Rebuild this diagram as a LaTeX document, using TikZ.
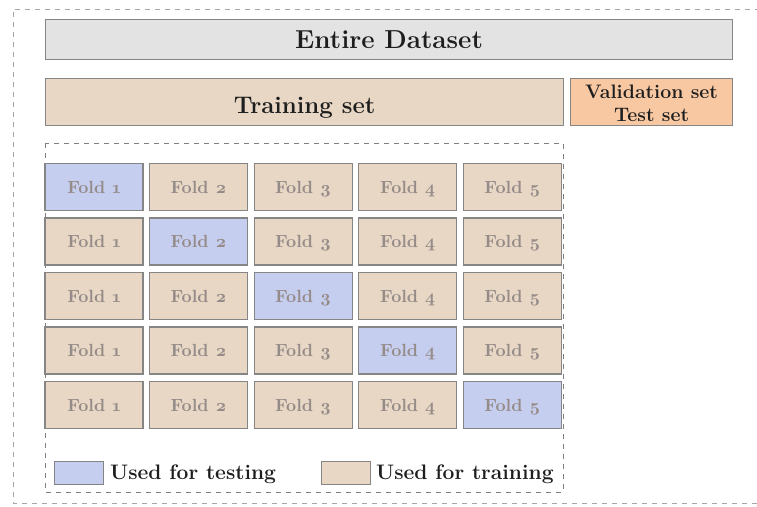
\documentclass[tikz,border=0pt]{standalone}
\usepackage{fontspec}
\usepackage{tikz}
\newfontfamily\foldfont{lmroman10}[Extension=.otf,UprightFont=*-regular,BoldFont=*-bold,Numbers=OldStyle]
\definecolor{tgray}{HTML}{E3E3E3}
\definecolor{ttan}{HTML}{E7D7C4}
\definecolor{tblue}{HTML}{C6CEF0}
\definecolor{tpeach}{HTML}{F8C8A3}
\definecolor{tedge}{HTML}{858585}
\definecolor{ttext}{HTML}{1E1E1E}
\definecolor{tfold}{HTML}{958B88}
\begin{document}
\begin{tikzpicture}[x=1pt,y=-1pt,
  boxbase/.style={draw=tedge,line width=1.2pt,inner sep=0pt,anchor=north west,text=ttext},
  foldbox/.style={draw=tedge,line width=1.3pt,minimum width=98pt,minimum height=47pt,inner sep=0pt,text=tfold,text height=12.2pt,text depth=0pt,font=\foldfont\fontsize{17.6}{20}\selectfont\bfseries},
  trainfold/.style={foldbox,fill=ttan},
  testfold/.style={foldbox,fill=tblue},
  legsq/.style={draw=tedge,line width=1pt,minimum width=49pt,minimum height=23pt,inner sep=0pt},
  legtext/.style={anchor=west,inner sep=0pt,text=ttext,text height=14.5pt,text depth=0pt,font=\fontsize{21}{22}\selectfont\bfseries},
  outerdash/.style={draw=black!35,line width=0.8pt,dash pattern=on 5pt off 5pt},
  innerdash/.style={draw=black!50,line width=0.8pt,dash pattern=on 5pt off 5pt}]
\useasboundingbox (0,0) rectangle (757,506);
% outer dashed frame (runs off the right edge)
\draw[outerdash] (770,9) -- (13,9) -- (13,503) -- (770,503);
% inner dashed frame
\draw[innerdash] (45,143) rectangle (563,492);
% header boxes
\node[boxbase,fill=tgray,minimum width=687pt,minimum height=40pt,text height=17.8pt,text depth=0pt,font=\fontsize{26}{28}\selectfont\bfseries] (entire) at (45,19) {Entire Dataset};
\node[boxbase,fill=ttan,minimum width=518pt,minimum height=47pt] (train) at (45,78) {};
\node[text=ttext,inner sep=0pt,text height=16pt,text depth=0pt,font=\fontsize{24}{26}\selectfont\bfseries] (traintxt) at ([yshift=-3.5pt]train.center) {Training set};
\node[boxbase,fill=tpeach,minimum width=162pt,minimum height=47pt] (valid) at (570,78) {};
\node[text=ttext,inner sep=0pt,align=center,font=\fontsize{19.5}{23}\selectfont\bfseries] (validtxt) at ([yshift=-1pt]valid.center) {Validation set\\Test set};
% folds
\foreach \r in {1,...,5}{
  \foreach \c in {1,...,5}{
    \pgfmathsetmacro{\xx}{94+104.6*(\c-1)}
    \pgfmathsetmacro{\yy}{187+54.5*(\r-1)}
    \ifnum\r=\c
      \node[testfold] (f-\r-\c) at (\xx,\yy) {Fold \c};
    \else
      \node[trainfold] (f-\r-\c) at (\xx,\yy) {Fold \c};
    \fi
  }
}
% legend
\node[legsq,fill=tblue] (legtest) at (78.5,472.5) {};
\node[legtext] (legtesttxt) at (110,472.5) {Used for testing};
\node[legsq,fill=ttan] (legtrain) at (345.5,472.5) {};
\node[legtext] (legtraintxt) at (376,472.5) {Used for training};
\end{tikzpicture}
\end{document}
